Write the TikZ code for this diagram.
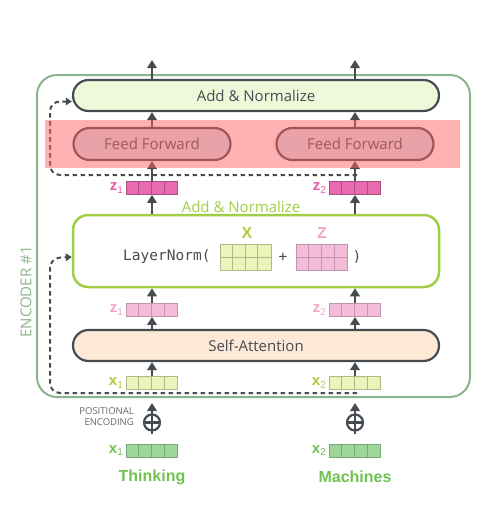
\documentclass[tikz,border=0pt]{standalone}
\usepackage{fontspec}
\setmainfont{Open Sans}
\setmonofont{DejaVu Sans Mono}
\newfontfamily\labfont{Liberation Sans}
\usetikzlibrary{arrows.meta}
\definecolor{ink}{RGB}{70,76,82}
\definecolor{enc}{RGB}{140,180,140}
\definecolor{band}{RGB}{255,97,97}
\definecolor{topfill}{RGB}{238,249,217}
\definecolor{safill}{RGB}{253,233,214}
\definecolor{fffill}{RGB}{212,228,240}
\definecolor{lnline}{RGB}{162,205,70}
\definecolor{xfill}{RGB}{234,245,186}
\definecolor{xline}{RGB}{176,184,140}
\definecolor{xlab}{RGB}{186,196,60}
\definecolor{zfill}{RGB}{245,188,217}
\definecolor{zline}{RGB}{190,150,172}
\definecolor{zlab}{RGB}{245,163,201}
\definecolor{zdfill}{RGB}{232,107,176}
\definecolor{zdline}{RGB}{170,80,125}
\definecolor{zdlab}{RGB}{228,88,165}
\definecolor{gfill}{RGB}{158,214,154}
\definecolor{gline}{RGB}{120,170,116}
\definecolor{glab}{RGB}{112,194,80}
\newcommand\vlab[2]{{\labfont\bfseries #1\raisebox{-2.5pt}{\fontsize{10}{10}\selectfont\mdseries #2}}}
\begin{document}
\begin{tikzpicture}[x=1pt,y=-1pt,line cap=butt,line join=miter,>={Triangle[length=8pt,width=9.5pt]}]
	\tikzset{
		arr/.style={->,draw=ink,line width=2.3pt},
		res/.style={->,draw=ink,line width=2pt,dash pattern=on 4.5pt off 3.5pt,rounded corners=10pt,>={Triangle[length=6pt,width=7.5pt]}},
		pill/.style={draw=ink,line width=2.2pt,rounded corners=15.5pt,minimum width=366pt,minimum height=31pt,inner sep=0pt,text=ink,font=\fontsize{15}{15}\selectfont},
		vec/.style 2 args={fill=#1,draw=#2,line width=0.8pt,minimum width=51pt,minimum height=13pt,inner sep=0pt},
		mat/.style 2 args={fill=#1,draw=#2,line width=0.8pt,minimum width=51pt,minimum height=26pt,inner sep=0pt},
		vtag/.style={anchor=east,inner sep=1pt,font=\fontsize{15}{15}\selectfont}
	}
	\useasboundingbox (0,0) rectangle (489,515);
	\draw[enc,line width=2pt,rounded corners=20pt] (37,75) rectangle (470,397);
	\node[rotate=90,text=enc,font=\fontsize{15}{15}\selectfont] (enclab) at (26,292) {ENCODER \#1};
	% boxes
	\node[pill,fill=topfill] (addtop) at (256,95.5) {Add \& Normalize};
	\node[pill,fill=fffill,minimum width=157pt,minimum height=32pt,rounded corners=16pt] (ff1) at (152,144) {Feed Forward};
	\node[pill,fill=fffill,minimum width=157pt,minimum height=32pt,rounded corners=16pt] (ff2) at (355,144) {Feed Forward};
	\node[draw=lnline,line width=2.5pt,rounded corners=15pt,minimum width=366pt,minimum height=72pt] (ln) at (256,251) {};
	\node[pill,fill=safill] (sa) at (256,345.5) {Self-Attention};
	\node[text=lnline,font=\fontsize{15}{15}\selectfont] (lntitle) at (241,207) {Add \& Normalize};
	% vectors
	\node[vec={zdfill}{zdline}] (z1d) at (152,188) {};
	\node[vec={zdfill}{zdline}] (z2d) at (355,188) {};
	\node[vec={zfill}{zline}] (z1) at (152,310) {};
	\node[vec={zfill}{zline}] (z2) at (355,310) {};
	\node[vec={xfill}{xline}] (x1) at (152,383) {};
	\node[vec={xfill}{xline}] (x2) at (355,383) {};
	\node[vec={gfill}{gline}] (x1g) at (152,450.5) {};
	\node[vec={gfill}{gline}] (x2g) at (355,450.5) {};
	\foreach \v/\c in {z1d/zdline,z2d/zdline,z1/zline,z2/zline,x1/xline,x2/xline,x1g/gline,x2g/gline}{
		\foreach \i in {1,2,3}{
			\draw[\c,line width=0.8pt] ([xshift=\i*12.75pt]\v.north west)--([xshift=\i*12.75pt]\v.south west);
		}
	}
	\node[vtag,text=zdlab] (z1dl) at ([xshift=-2pt]z1d.west) {\vlab{z}{1}};
	\node[vtag,text=zdlab] (z2dl) at ([xshift=-2pt]z2d.west) {\vlab{z}{2}};
	\node[vtag,text=zlab] (z1l) at ([xshift=-2pt]z1.west) {\vlab{z}{1}};
	\node[vtag,text=zlab] (z2l) at ([xshift=-2pt]z2.west) {\vlab{z}{2}};
	\node[vtag,text=xlab] (x1l) at ([xshift=-2pt]x1.west) {\vlab{x}{1}};
	\node[vtag,text=xlab] (x2l) at ([xshift=-2pt]x2.west) {\vlab{x}{2}};
	\node[vtag,text=glab] (x1gl) at ([xshift=-2pt]x1g.west) {\vlab{x}{1}};
	\node[vtag,text=glab] (x2gl) at ([xshift=-2pt]x2g.west) {\vlab{x}{2}};
	% layer norm
	\node[anchor=west,text=ink,inner sep=0pt,font=\ttfamily\fontsize{14.5}{14.5}\selectfont] (lnfun) at (123,257) {LayerNorm(};
	\node[mat={xfill}{xline}] (mx) at (245.5,257) {};
	\node[mat={zfill}{zline}] (mz) at (322,257) {};
	\foreach \v/\c in {mx/xline,mz/zline}{
		\foreach \i in {1,2,3}{
			\draw[\c,line width=0.8pt] ([xshift=\i*12.75pt]\v.north west)--([xshift=\i*12.75pt]\v.south west);
		}
		\draw[\c,line width=0.8pt] (\v.west)--(\v.east);
	}
	\node[text=xlab,font=\labfont\bfseries\fontsize{16}{16}\selectfont] (mxl) at (247,233) {X};
	\node[text=zlab,font=\labfont\bfseries\fontsize{16}{16}\selectfont] (mzl) at (322,233) {Z};
	\node[text=ink,font=\ttfamily\fontsize{14.5}{14.5}\selectfont] (plus) at (283,257) {+};
	\node[text=ink,font=\ttfamily\fontsize{14.5}{14.5}\selectfont] (close) at (357,257) {)};
	% inputs
	\node[text=glab,font=\labfont\bfseries\fontsize{16}{16}\selectfont] (w1) at (152,477) {Thinking};
	\node[text=glab,font=\labfont\bfseries\fontsize{16}{16}\selectfont] (w2) at (355,477) {Machines};
	\node[anchor=east,align=right,text=ink!85,inner sep=0pt,font=\fontsize{9.5}{11}\selectfont] (pos) at (134,416.5) {POSITIONAL\\ENCODING};
	\foreach \k/\x in {1/152,2/355}{
		\coordinate (st\k) at (\x,434);
		\coordinate (in\k) at (\x,403);
		\coordinate (out\k) at (\x,60);
		\node[circle,draw=ink,fill=white,line width=2.2pt,minimum size=16pt,inner sep=0pt] (pe\k) at (\x,422.5) {};
		\draw[ink,line width=2.2pt] (pe\k.west)--(pe\k.east) (pe\k.north)--(pe\k.south);
		\draw[ink,line width=2.3pt] (st\k)--(pe\k.south);
		\draw[arr] (pe\k.north)--(in\k);
	}
	% flow
	\draw[arr] (x1.north)--(x1.north |- sa.south);
	\draw[arr] (x2.north)--(x2.north |- sa.south);
	\draw[arr] (z1.south |- sa.north)--(z1.south);
	\draw[arr] (z2.south |- sa.north)--(z2.south);
	\draw[arr] (z1.north)--(z1.north |- ln.south);
	\draw[arr] (z2.north)--(z2.north |- ln.south);
	\draw[arr] (z1d.south |- ln.north)--(z1d.south);
	\draw[arr] (z2d.south |- ln.north)--(z2d.south);
	\draw[arr] (z1d.north)--(ff1.south);
	\draw[arr] (z2d.north)--(ff2.south);
	\draw[arr] (ff1.north)--(ff1.north |- addtop.south);
	\draw[arr] (ff2.north)--(ff2.north |- addtop.south);
	\draw[arr] (addtop.north -| out1)--(out1);
	\draw[arr] (addtop.north -| out2)--(out2);
	% residuals
	\coordinate (r1) at (357,393);
	\coordinate (r2) at (357,175);
	\draw[res] (r1)--(50,393)--(50,258)--([yshift=-6pt]ln.west);
	\draw[res] (r2)--(50,175)--(50,101.5)--([yshift=-6pt]addtop.west);
	\fill[band,fill opacity=0.5] (45,120) rectangle (460,168);
\end{tikzpicture}
\end{document}
